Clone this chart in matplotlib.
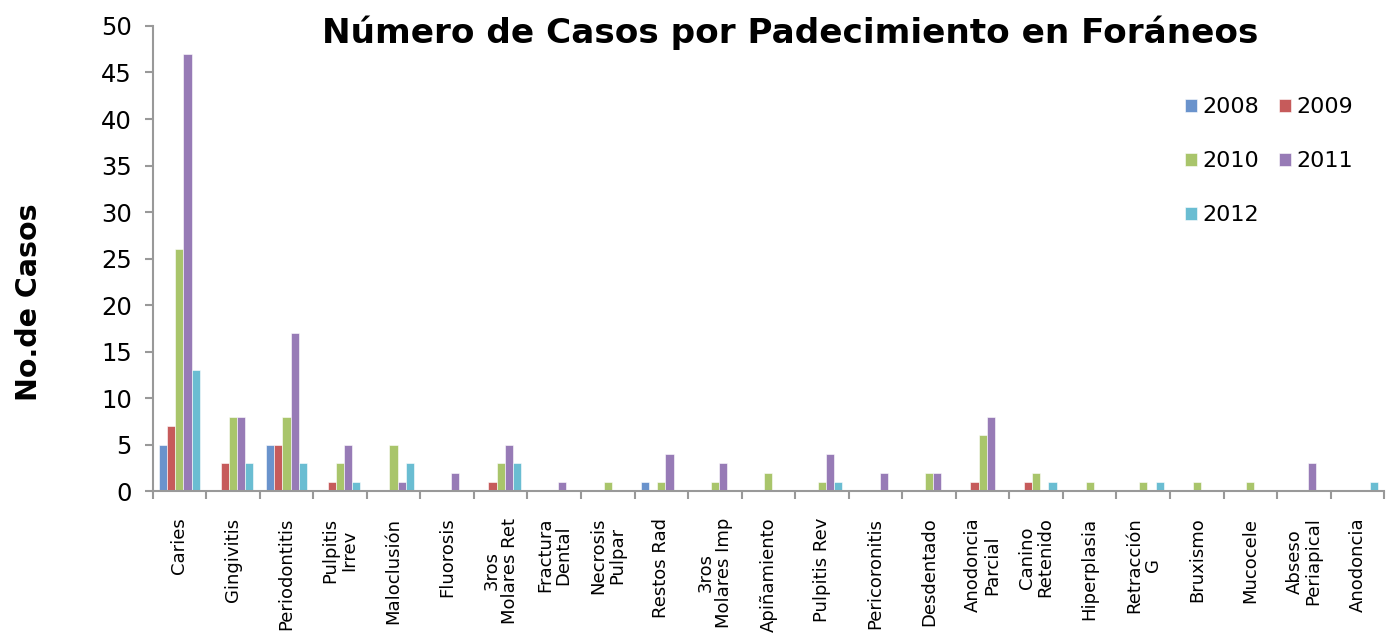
import numpy as np
import matplotlib
matplotlib.use("Agg")
import matplotlib.pyplot as plt

categories = ["Caries", "Gingivitis", "Periodontitis", "Pulpitis\nIrrev", "Maloclusión",
              "Fluorosis", "3ros\nMolares Ret", "Fractura\nDental", "Necrosis\nPulpar",
              "Restos Rad", "3ros\nMolares Imp", "Apiñamiento", "Pulpitis Rev",
              "Pericoronitis", "Desdentado", "Anodoncia\nParcial", "Canino\nRetenido",
              "Hiperplasia", "Retracción\nG", "Bruxismo", "Mucocele", "Abseso\nPeriapical",
              "Anodoncia"]
years = ["2008", "2009", "2010", "2011", "2012"]

casos_2008 = [5, 0, 5, 0, 0, 0, 0, 0, 0, 1, 0, 0, 0, 0, 0, 0, 0, 0, 0, 0, 0, 0, 0]
casos_2009 = [7, 3, 5, 1, 0, 0, 1, 0, 0, 0, 0, 0, 0, 0, 0, 1, 1, 0, 0, 0, 0, 0, 0]
casos_2010 = [26, 8, 8, 3, 5, 0, 3, 0, 1, 1, 1, 2, 1, 0, 2, 6, 2, 1, 1, 1, 1, 0, 0]
casos_2011 = [47, 8, 17, 5, 1, 2, 5, 1, 0, 4, 3, 0, 4, 2, 2, 8, 0, 0, 0, 0, 0, 3, 0]
casos_2012 = [13, 3, 3, 1, 3, 0, 3, 0, 0, 0, 0, 0, 1, 0, 0, 0, 1, 0, 1, 0, 0, 0, 1]

series = [casos_2008, casos_2009, casos_2010, casos_2011, casos_2012]
colors = ["#6a93cc", "#c65b5b", "#a9c56b", "#977bb6", "#6abdd2"]

fig = plt.figure(figsize=(13.87, 6.33), dpi=100)
ax = fig.add_axes([0.110, 0.224, 0.888, 0.735])

x = np.arange(len(categories))
w = 0.153
bars = []
for i, (vals, c, yr) in enumerate(zip(series, colors, years)):
    b = ax.bar(x + (i - 2) * w, vals, width=w, color=c, label=yr,
               edgecolor="white", linewidth=0.4)
    bars.append(b)

ax.set_xlim(-0.5, len(categories) - 0.5)
ax.set_ylim(0, 50)
ax.set_yticks(np.arange(0, 51, 5))
ax.tick_params(axis="y", labelsize=17.5, length=6, width=1.5, color="#999999", pad=9)

ax.set_xticks(x)
ax.set_xticklabels(categories, rotation=90, fontsize=13, va="top", ha="center",
                   multialignment="center", linespacing=1.05)
ax.tick_params(axis="x", length=0, pad=19)
ax.set_xticks(np.arange(-0.5, len(categories), 1), minor=True)
ax.tick_params(axis="x", which="minor", length=6, width=1.5, color="#999999")

for s in ["top", "right"]:
    ax.spines[s].set_visible(False)
for s in ["left", "bottom"]:
    ax.spines[s].set_color("#999999")
    ax.spines[s].set_linewidth(1.5)

fig.text(0.570, 0.949, "Número de Casos por Padecimiento en Foráneos",
         ha="center", va="center", fontsize=24.7, fontweight="bold")
fig.text(0.021, 0.523, "No.de Casos", rotation=90, ha="center", va="center",
         fontsize=20.5, fontweight="bold")

order = [0, 2, 4, 1, 3]
handles = [bars[i] for i in order]
labels = [years[i] for i in order]
ax.legend(handles, labels, ncol=2, loc="upper left", bbox_to_anchor=(0.822, 0.89),
          frameon=False, fontsize=16, handlelength=0.55, handleheight=0.55,
          handletextpad=0.25, columnspacing=0.87, labelspacing=1.53)

fig.savefig("out.png", dpi=100)
